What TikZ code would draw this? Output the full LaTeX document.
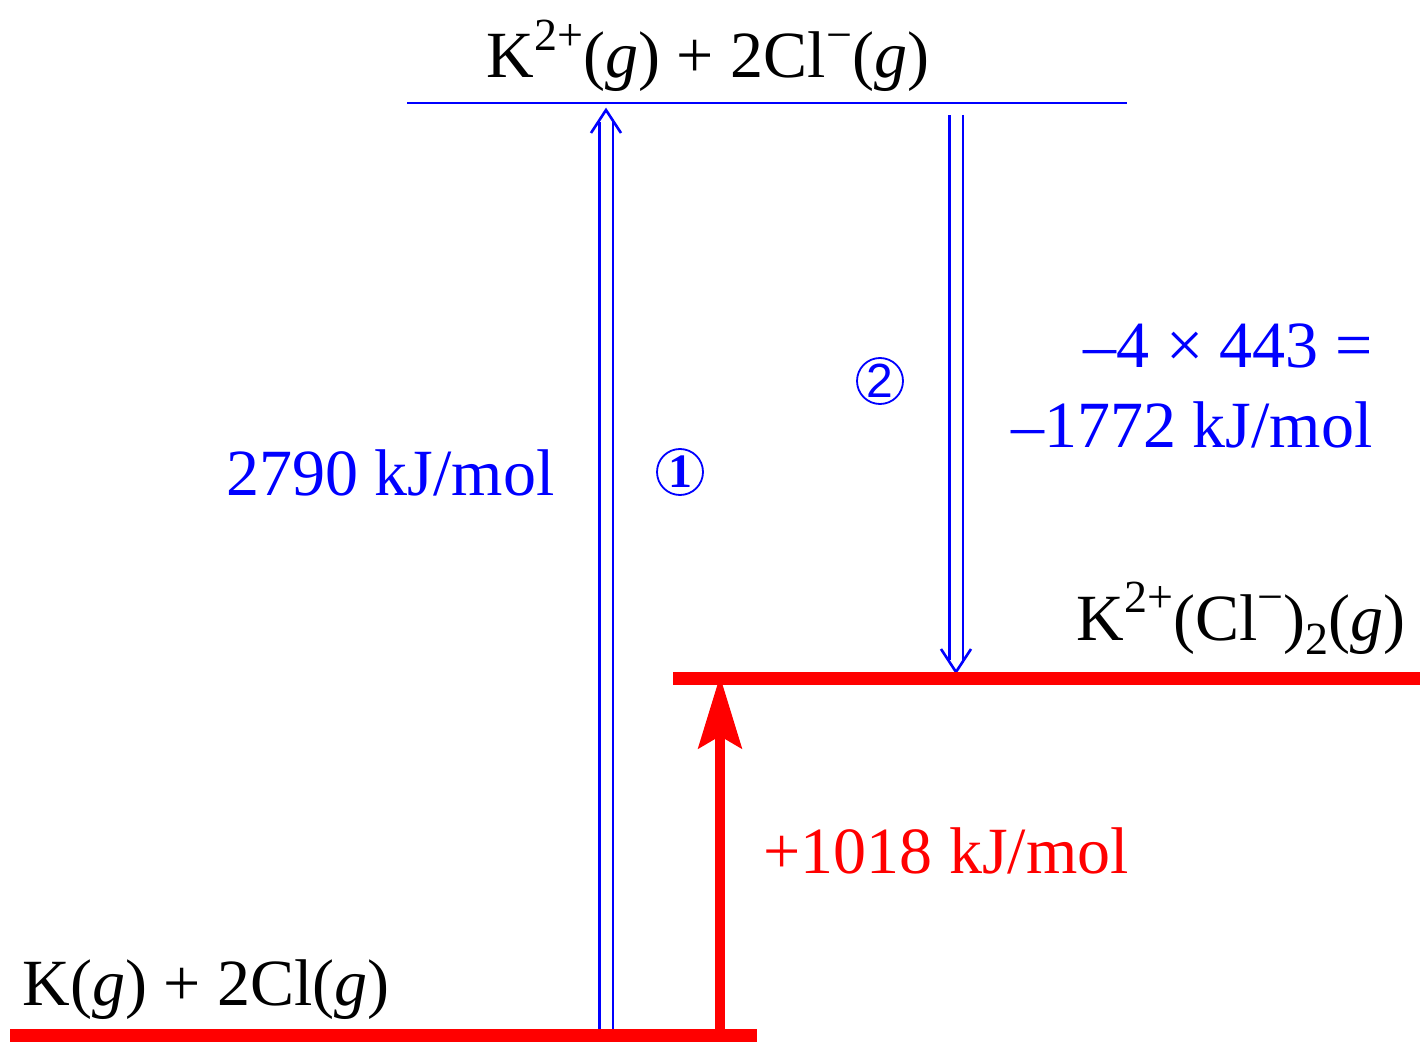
\documentclass[tikz,border=0pt]{standalone}
\usepackage{fontspec}
\setmainfont{Liberation Serif}
\newfontfamily\sansfnt{Liberation Sans}
\usetikzlibrary{arrows.meta,calc}
\newcommand{\supr}[1]{\raisebox{0.42em}{\fontsize{23}{24}\selectfont #1}}
\newcommand{\subr}[1]{\raisebox{-0.22em}{\fontsize{23}{24}\selectfont #1}}
\begin{document}
\begin{tikzpicture}[x=0.5pt,y=-0.5pt,
  lbl/.style={font=\fontsize{33}{40}\selectfont, inner sep=0pt},
  circ/.style={circle, draw=blue, line width=0.9pt, minimum size=23pt, inner sep=0pt, text=blue, font=\fontsize{24}{26}\selectfont},
  redlevel/.style={red, line width=6.5pt},
  bluelevel/.style={blue, line width=1.2pt},
  dbl/.style={blue, double, double distance=5.5pt, line width=1.2pt},
  chev/.style={blue, line width=1.3pt, line join=miter},
  redarrow/.style={red, line width=5pt, -{Stealth[length=36pt, width=21.5pt, inset=6pt]}}
]
\useasboundingbox (0,0) rectangle (1420,1043);
% levels
\coordinate (b1) at (10,1035);
\coordinate (b2) at (757,1035);
\coordinate (m1) at (673,678);
\coordinate (m2) at (1420,678);
\coordinate (t1) at (407,103);
\coordinate (t2) at (1127,103);
% arrow ends
\coordinate (upS) at (606,1029);
\coordinate (upE) at (606,110);
\coordinate (dnS) at (956,115);
\coordinate (dnE) at (956,672);
\coordinate (rS) at (720,1029);
\coordinate (rE) at (720,676);
\draw[dbl] (upS) -- ($(upE)+(0,12)$);
\draw[chev] ($(upE)+(-15,23)$) -- (upE) -- ($(upE)+(15,23)$);
\draw[dbl] (dnS) -- ($(dnE)+(0,-12)$);
\draw[chev] ($(dnE)+(-15,-23)$) -- (dnE) -- ($(dnE)+(15,-23)$);
\draw[redarrow] (rS) -- (rE);
\draw[redlevel] (b1) -- (b2);
\draw[redlevel] (m1) -- (m2);
\draw[bluelevel] (t1) -- (t2);
% labels
\node[lbl, anchor=base] (ltop) at (708,78) {K\supr{2+}(\textit{g}) + 2Cl\supr{−}(\textit{g})};
\node[lbl, anchor=base east, text=blue] (l1) at (555,495) {2790 kJ/mol};
\node[circ] (c1) at (680,472) {\bfseries\raisebox{0pt}{1}};
\node[circ] (c2) at (880,381) {\sansfnt 2};
\node[lbl, anchor=base east, text=blue] (l2a) at (1373,368) {–4 × 443 =};
\node[lbl, anchor=base east, text=blue] (l2b) at (1373,447) {–1772 kJ/mol};
\node[lbl, anchor=base east] (lmid) at (1406,640) {K\supr{2+}(Cl\supr{−})\subr{2}(\textit{g})};
\node[lbl, anchor=base west, text=red] (l3) at (763,873) {+1018 kJ/mol};
\node[lbl, anchor=base west] (lbot) at (22,1005) {K(\textit{g}) + 2Cl(\textit{g})};
\end{tikzpicture}
\end{document}
